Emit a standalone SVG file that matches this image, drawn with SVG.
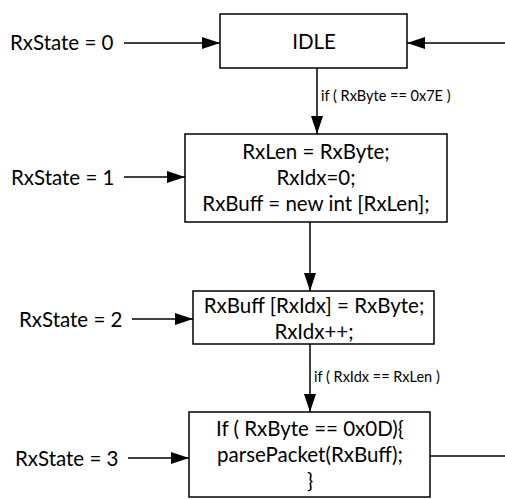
<svg xmlns="http://www.w3.org/2000/svg" width="505" height="499" viewBox="0 0 505 499">
<style>
text{font-family:Lato,"Liberation Sans",sans-serif;fill:#000}
.t{font-size:20.5px}
.c{text-anchor:middle}
.s{font-size:14.5px}
.box{fill:#fff;stroke:#000;stroke-width:1.5}
.ln{stroke:#000;stroke-width:1.5;fill:none}
</style>
<defs>
<marker id="ah" markerUnits="userSpaceOnUse" markerWidth="18" markerHeight="12" refX="18" refY="6" orient="auto">
<path d="M0,0 L18,6 L0,12 Z" fill="#000"/>
</marker>
</defs>
<rect width="505" height="499" fill="#fff"/>
<g id="connectors">
<line class="ln" x1="124" y1="43" x2="220" y2="43" marker-end="url(#ah)"/>
<line class="ln" x1="505" y1="43" x2="407" y2="43" marker-end="url(#ah)"/>
<line class="ln" x1="317" y1="68" x2="317" y2="134" marker-end="url(#ah)"/>
<line class="ln" x1="124" y1="177" x2="185" y2="177" marker-end="url(#ah)"/>
<line class="ln" x1="310" y1="222" x2="310" y2="291" marker-end="url(#ah)"/>
<line class="ln" x1="132" y1="319" x2="193" y2="319" marker-end="url(#ah)"/>
<line class="ln" x1="310" y1="344" x2="310" y2="412" marker-end="url(#ah)"/>
<line class="ln" x1="128" y1="458" x2="189" y2="458" marker-end="url(#ah)"/>
<line class="ln" x1="430" y1="456" x2="505" y2="456"/>
<text class="s" x="321" y="101">if ( RxByte == 0x7E )</text>
<text class="s" x="314" y="382">if ( RxIdx == RxLen )</text>
</g>
<g id="labels">
<text class="t" x="10" y="50">RxState = 0</text>
<text class="t" x="11" y="185">RxState = 1</text>
<text class="t" x="19" y="327">RxState = 2</text>
<text class="t" x="15" y="466">RxState = 3</text>
</g>
<g id="idle">
<rect class="box" x="220" y="14" width="187" height="54"/>
<text class="t c" x="314" y="49">IDLE</text>
</g>
<g id="state1">
<rect class="box" x="185" y="134" width="262" height="88"/>
<text class="t c" x="316" y="159">RxLen = RxByte;</text>
<text class="t c" x="316" y="185">RxIdx=0;</text>
<text class="t c" x="316" y="211">RxBuff = new int [RxLen];</text>
</g>
<g id="state2">
<rect class="box" x="193" y="291" width="241" height="53"/>
<text class="t c" x="314" y="313">RxBuff [RxIdx] = RxByte;</text>
<text class="t c" x="314" y="339">RxIdx++;</text>
</g>
<g id="state3">
<rect class="box" x="189" y="412" width="241" height="85"/>
<text class="t c" x="310" y="436">If ( RxByte == 0x0D){</text>
<text class="t c" x="310" y="462">parsePacket(RxBuff);</text>
<text class="t c" x="310" y="488">}</text>
</g>
</svg>
